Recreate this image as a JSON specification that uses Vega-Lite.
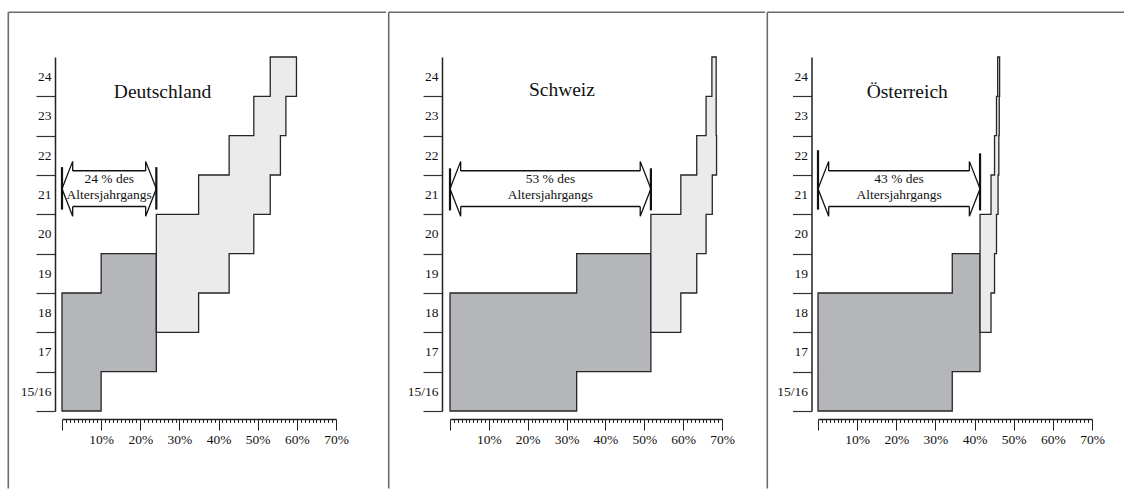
{
  "$schema": "https://vega.github.io/schema/vega-lite/v6.json",
  "padding": {"left": 7, "top": 11, "right": 0, "bottom": 0},
  "background": "white",
  "spacing": 0,
  "config": {
    "font": "Liberation Serif",
    "view": {"stroke": null},
    "text": {"font": "Liberation Serif", "color": "#111"},
    "axis": {"labelFont": "Liberation Serif"}
  },
  "datasets": {
    "stufen": [
      {"land": "Deutschland", "phase": "Phase 1", "alter": 16, "links": 0, "rechts": 10},
      {"land": "Deutschland", "phase": "Phase 1", "alter": 17, "links": 0, "rechts": 24.1},
      {"land": "Deutschland", "phase": "Phase 1", "alter": 18, "links": 0, "rechts": 24.1},
      {"land": "Deutschland", "phase": "Phase 1", "alter": 19, "links": 10, "rechts": 24.1},
      {"land": "Deutschland", "phase": "Phase 1", "alter": 20, "links": 10, "rechts": 24.1},
      {"land": "Deutschland", "phase": "Phase 2", "alter": 18, "links": 24.1, "rechts": 34.9},
      {"land": "Deutschland", "phase": "Phase 2", "alter": 19, "links": 24.1, "rechts": 42.7},
      {"land": "Deutschland", "phase": "Phase 2", "alter": 20, "links": 24.1, "rechts": 49},
      {"land": "Deutschland", "phase": "Phase 2", "alter": 21, "links": 34.9, "rechts": 53.2},
      {"land": "Deutschland", "phase": "Phase 2", "alter": 22, "links": 42.7, "rechts": 55.8},
      {"land": "Deutschland", "phase": "Phase 2", "alter": 23, "links": 49, "rechts": 57.2},
      {"land": "Deutschland", "phase": "Phase 2", "alter": 24, "links": 53.2, "rechts": 59.9},
      {"land": "Deutschland", "phase": "Phase 2", "alter": 25, "links": 53.2, "rechts": 59.9},
      {"land": "Schweiz", "phase": "Phase 1", "alter": 16, "links": 0, "rechts": 32.6},
      {"land": "Schweiz", "phase": "Phase 1", "alter": 17, "links": 0, "rechts": 51.7},
      {"land": "Schweiz", "phase": "Phase 1", "alter": 18, "links": 0, "rechts": 51.7},
      {"land": "Schweiz", "phase": "Phase 1", "alter": 19, "links": 32.6, "rechts": 51.7},
      {"land": "Schweiz", "phase": "Phase 1", "alter": 20, "links": 32.6, "rechts": 51.7},
      {"land": "Schweiz", "phase": "Phase 2", "alter": 18, "links": 51.7, "rechts": 59.4},
      {"land": "Schweiz", "phase": "Phase 2", "alter": 19, "links": 51.7, "rechts": 63.5},
      {"land": "Schweiz", "phase": "Phase 2", "alter": 20, "links": 51.7, "rechts": 65.9},
      {"land": "Schweiz", "phase": "Phase 2", "alter": 21, "links": 59.4, "rechts": 67.5},
      {"land": "Schweiz", "phase": "Phase 2", "alter": 22, "links": 63.5, "rechts": 68.6},
      {"land": "Schweiz", "phase": "Phase 2", "alter": 23, "links": 65.9, "rechts": 68.5},
      {"land": "Schweiz", "phase": "Phase 2", "alter": 24, "links": 67.4, "rechts": 68.5},
      {"land": "Schweiz", "phase": "Phase 2", "alter": 25, "links": 67.4, "rechts": 68.5},
      {"land": "Österreich", "phase": "Phase 1", "alter": 16, "links": 0, "rechts": 34.3},
      {"land": "Österreich", "phase": "Phase 1", "alter": 17, "links": 0, "rechts": 41.4},
      {"land": "Österreich", "phase": "Phase 1", "alter": 18, "links": 0, "rechts": 41.4},
      {"land": "Österreich", "phase": "Phase 1", "alter": 19, "links": 34.3, "rechts": 41.4},
      {"land": "Österreich", "phase": "Phase 1", "alter": 20, "links": 34.3, "rechts": 41.4},
      {"land": "Österreich", "phase": "Phase 2", "alter": 18, "links": 41.4, "rechts": 44.2},
      {"land": "Österreich", "phase": "Phase 2", "alter": 19, "links": 41.4, "rechts": 45.1},
      {"land": "Österreich", "phase": "Phase 2", "alter": 20, "links": 41.4, "rechts": 45.6},
      {"land": "Österreich", "phase": "Phase 2", "alter": 21, "links": 44.2, "rechts": 46.0},
      {"land": "Österreich", "phase": "Phase 2", "alter": 22, "links": 45.1, "rechts": 46.2},
      {"land": "Österreich", "phase": "Phase 2", "alter": 23, "links": 45.6, "rechts": 46.3},
      {"land": "Österreich", "phase": "Phase 2", "alter": 24, "links": 45.9, "rechts": 46.4},
      {"land": "Österreich", "phase": "Phase 2", "alter": 25, "links": 45.9, "rechts": 46.4}
    ],
    "pfeile": [
      {"land": "Deutschland", "von": 0, "bis": 24.1, "text": "24 % des\nAltersjahrgangs"},
      {"land": "Schweiz", "von": 0, "bis": 51.7, "text": "53 % des\nAltersjahrgangs"},
      {"land": "Österreich", "von": 0, "bis": 41.4, "text": "43 % des\nAltersjahrgangs"}
    ]
  },
  "hconcat": [
    {
      "width": 274, "height": 354,
      "layer": [
        {
          "data": {"name": "stufen"},
          "transform": [{"filter": "datum.land === 'Deutschland'"}],
          "mark": {"type": "area", "orient": "horizontal", "interpolate": "step-after", "stroke": "#262626", "strokeWidth": 1.3, "strokeJoin": "miter", "opacity": 1},
          "encoding": {
            "y": {"field": "alter", "type": "quantitative", "scale": {"domain": [16, 25], "nice": false, "zero": false},
              "axis": {"orient": "left", "offset": 7, "title": null, "grid": false, "values": [16,17,18,19,20,21,22,23,24], "tickCount": 50, "tickSize": 19, "tickColor": "#333", "tickWidth": 1.2, "domainColor": "#222", "domainWidth": 1.5, "labelExpr": "datum.value === 16 ? '15/16' : '' + datum.value", "labelOffset": -19.67, "labelPadding": -15, "labelAlign": "right", "labelBaseline": "middle", "labelOverlap": false, "labelFlush": false, "labelBound": false, "labelFontSize": 13.5, "labelColor": "#111"}},
            "x": {"field": "links", "type": "quantitative", "scale": {"domain": [0, 70], "nice": false, "zero": false},
              "axis": {"orient": "bottom", "offset": 8, "title": null, "grid": false, "values": [0,1,2,3,4,5,6,7,8,9,10,11,12,13,14,15,16,17,18,19,20,21,22,23,24,25,26,27,28,29,30,31,32,33,34,35,36,37,38,39,40,41,42,43,44,45,46,47,48,49,50,51,52,53,54,55,56,57,58,59,60,61,62,63,64,65,66,67,68,69,70], "tickCount": 500, "tickSize": {"condition": {"test": "datum.value % 10 === 0", "value": 11}, "value": 3.5}, "tickColor": "#222", "tickWidth": 1, "domainColor": "#222", "domainWidth": 1.5, "labelExpr": "datum.value % 10 === 0 && datum.value > 0 ? datum.value + '%' : ''", "labelOverlap": false, "labelFlush": false, "labelBound": false, "labelPadding": 2, "labelFontSize": 13.5, "labelColor": "#111"}},
            "x2": {"field": "rechts"},
            "fill": {"field": "phase", "type": "nominal", "scale": {"domain": ["Phase 1", "Phase 2"], "range": ["#b4b6b9", "#ebebeb"]}, "legend": null}
          }
        },
        {
          "data": {"values": [{}]},
          "mark": {"type": "rule", "color": "#6b6b6b", "strokeWidth": 1.6},
          "encoding": {"x": {"datum": -13.72}, "y": {"datum": 26.137}, "y2": {"datum": 14.03}}
        },
        {
          "data": {"values": [{}]},
          "mark": {"type": "rule", "color": "#6b6b6b", "strokeWidth": 1.6},
          "encoding": {"x": {"datum": -13.72}, "x2": {"datum": 82.75}, "y": {"datum": 26.137}}
        },
        {
          "data": {"name": "pfeile"},
          "transform": [{"filter": "datum.land === 'Deutschland'"}],
          "layer": [
            {"mark": {"type": "rule", "color": "#111", "strokeWidth": 1.5, "xOffset": 10.7, "x2Offset": -10.7}, "encoding": {"x": {"field": "von", "type": "quantitative"}, "x2": {"field": "bis"}, "y": {"datum": 22.107}}},
            {"mark": {"type": "rule", "color": "#111", "strokeWidth": 1.5, "xOffset": 10.7, "x2Offset": -10.7}, "encoding": {"x": {"field": "von", "type": "quantitative"}, "x2": {"field": "bis"}, "y": {"datum": 21.197}}},
            {"mark": {"type": "rule", "color": "#111", "strokeWidth": 2.2}, "encoding": {"x": {"field": "von", "type": "quantitative"}, "y": {"datum": 22.2}, "y2": {"datum": 21.12}}},
            {"mark": {"type": "rule", "color": "#111", "strokeWidth": 2.2}, "encoding": {"x": {"field": "bis", "type": "quantitative"}, "y": {"datum": 22.2}, "y2": {"datum": 21.12}}},
            {"mark": {"type": "point", "shape": "M0.39,-0.65L0.39,-1L0,0L0.39,1L0.39,0.65", "size": 3000, "filled": false, "color": "#111", "strokeWidth": 1.3, "opacity": 1}, "encoding": {"x": {"field": "von", "type": "quantitative"}, "y": {"datum": 21.65}}},
            {"mark": {"type": "point", "shape": "M-0.39,-0.65L-0.39,-1L0,0L-0.39,1L-0.39,0.65", "size": 3000, "filled": false, "color": "#111", "strokeWidth": 1.3, "opacity": 1}, "encoding": {"x": {"field": "bis", "type": "quantitative"}, "y": {"datum": 21.65}}},
            {"transform": [{"fold": ["von", "bis"], "as": ["ende", "wert"]}], "mark": {"type": "text", "fontSize": 13.5, "lineBreak": "\n", "lineHeight": 16.5, "baseline": "middle", "align": "center", "color": "#111"}, "encoding": {"x": {"aggregate": "mean", "field": "wert", "type": "quantitative"}, "y": {"datum": 21.9}, "text": {"field": "text", "type": "nominal"}}}
          ]
        },
        {
          "data": {"values": [{}]},
          "mark": {"type": "text", "fontSize": 19.5, "align": "center", "baseline": "middle", "color": "#111"},
          "encoding": {"x": {"datum": 25.7}, "y": {"datum": 24.11}, "text": {"value": "Deutschland"}}
        }
      ]
    },
    {
      "width": 272, "height": 354,
      "layer": [
        {
          "data": {"name": "stufen"},
          "transform": [{"filter": "datum.land === 'Schweiz'"}],
          "mark": {"type": "area", "orient": "horizontal", "interpolate": "step-after", "stroke": "#262626", "strokeWidth": 1.3, "strokeJoin": "miter", "opacity": 1},
          "encoding": {
            "y": {"field": "alter", "type": "quantitative", "scale": {"domain": [16, 25], "nice": false, "zero": false},
              "axis": {"orient": "left", "offset": 8, "title": null, "grid": false, "values": [16,17,18,19,20,21,22,23,24], "tickCount": 50, "tickSize": 19, "tickColor": "#333", "tickWidth": 1.2, "domainColor": "#222", "domainWidth": 1.5, "labelExpr": "datum.value === 16 ? '15/16' : '' + datum.value", "labelOffset": -19.67, "labelPadding": -15, "labelAlign": "right", "labelBaseline": "middle", "labelOverlap": false, "labelFlush": false, "labelBound": false, "labelFontSize": 13.5, "labelColor": "#111"}},
            "x": {"field": "links", "type": "quantitative", "scale": {"domain": [0, 70], "nice": false, "zero": false},
              "axis": {"orient": "bottom", "offset": 8, "title": null, "grid": false, "values": [0,1,2,3,4,5,6,7,8,9,10,11,12,13,14,15,16,17,18,19,20,21,22,23,24,25,26,27,28,29,30,31,32,33,34,35,36,37,38,39,40,41,42,43,44,45,46,47,48,49,50,51,52,53,54,55,56,57,58,59,60,61,62,63,64,65,66,67,68,69,70], "tickCount": 500, "tickSize": {"condition": {"test": "datum.value % 10 === 0", "value": 11}, "value": 3.5}, "tickColor": "#222", "tickWidth": 1, "domainColor": "#222", "domainWidth": 1.5, "labelExpr": "datum.value % 10 === 0 && datum.value > 0 ? datum.value + '%' : ''", "labelOverlap": false, "labelFlush": false, "labelBound": false, "labelPadding": 2, "labelFontSize": 13.5, "labelColor": "#111"}},
            "x2": {"field": "rechts"},
            "fill": {"field": "phase", "type": "nominal", "scale": {"domain": ["Phase 1", "Phase 2"], "range": ["#b4b6b9", "#d8d9da"]}, "legend": null}
          }
        },
        {
          "data": {"values": [{}]},
          "mark": {"type": "rule", "color": "#6b6b6b", "strokeWidth": 1.6},
          "encoding": {"x": {"datum": -15.77}, "y": {"datum": 26.137}, "y2": {"datum": 14.03}}
        },
        {
          "data": {"values": [{}]},
          "mark": {"type": "rule", "color": "#6b6b6b", "strokeWidth": 1.6},
          "encoding": {"x": {"datum": -15.77}, "x2": {"datum": 81.09}, "y": {"datum": 26.137}}
        },
        {
          "data": {"name": "pfeile"},
          "transform": [{"filter": "datum.land === 'Schweiz'"}],
          "layer": [
            {"mark": {"type": "rule", "color": "#111", "strokeWidth": 1.5, "xOffset": 10.7, "x2Offset": -10.7}, "encoding": {"x": {"field": "von", "type": "quantitative"}, "x2": {"field": "bis"}, "y": {"datum": 22.107}}},
            {"mark": {"type": "rule", "color": "#111", "strokeWidth": 1.5, "xOffset": 10.7, "x2Offset": -10.7}, "encoding": {"x": {"field": "von", "type": "quantitative"}, "x2": {"field": "bis"}, "y": {"datum": 21.197}}},
            {"mark": {"type": "rule", "color": "#111", "strokeWidth": 2.2}, "encoding": {"x": {"field": "von", "type": "quantitative"}, "y": {"datum": 22.17}, "y2": {"datum": 21.1}}},
            {"mark": {"type": "rule", "color": "#111", "strokeWidth": 2.2}, "encoding": {"x": {"field": "bis", "type": "quantitative"}, "y": {"datum": 22.17}, "y2": {"datum": 21.1}}},
            {"mark": {"type": "point", "shape": "M0.39,-0.65L0.39,-1L0,0L0.39,1L0.39,0.65", "size": 3000, "filled": false, "color": "#111", "strokeWidth": 1.3, "opacity": 1}, "encoding": {"x": {"field": "von", "type": "quantitative"}, "y": {"datum": 21.65}}},
            {"mark": {"type": "point", "shape": "M-0.39,-0.65L-0.39,-1L0,0L-0.39,1L-0.39,0.65", "size": 3000, "filled": false, "color": "#111", "strokeWidth": 1.3, "opacity": 1}, "encoding": {"x": {"field": "bis", "type": "quantitative"}, "y": {"datum": 21.65}}},
            {"transform": [{"fold": ["von", "bis"], "as": ["ende", "wert"]}], "mark": {"type": "text", "fontSize": 13.5, "lineBreak": "\n", "lineHeight": 16.5, "baseline": "middle", "align": "center", "color": "#111"}, "encoding": {"x": {"aggregate": "mean", "field": "wert", "type": "quantitative"}, "y": {"datum": 21.9}, "text": {"field": "text", "type": "nominal"}}}
          ]
        },
        {
          "data": {"values": [{}]},
          "mark": {"type": "text", "fontSize": 19.5, "align": "center", "baseline": "middle", "color": "#111"},
          "encoding": {"x": {"datum": 28.8}, "y": {"datum": 24.15}, "text": {"value": "Schweiz"}}
        }
      ]
    },
    {
      "width": 274, "height": 354,
      "layer": [
        {
          "data": {"name": "stufen"},
          "transform": [{"filter": "datum.land === 'Österreich'"}],
          "mark": {"type": "area", "orient": "horizontal", "interpolate": "step-after", "stroke": "#262626", "strokeWidth": 1.3, "strokeJoin": "miter", "opacity": 1},
          "encoding": {
            "y": {"field": "alter", "type": "quantitative", "scale": {"domain": [16, 25], "nice": false, "zero": false},
              "axis": {"orient": "left", "offset": 6.5, "title": null, "grid": false, "values": [16,17,18,19,20,21,22,23,24], "tickCount": 50, "tickSize": 19, "tickColor": "#333", "tickWidth": 1.2, "domainColor": "#222", "domainWidth": 1.5, "labelExpr": "datum.value === 16 ? '15/16' : '' + datum.value", "labelOffset": -19.67, "labelPadding": -15, "labelAlign": "right", "labelBaseline": "middle", "labelOverlap": false, "labelFlush": false, "labelBound": false, "labelFontSize": 13.5, "labelColor": "#111"}},
            "x": {"field": "links", "type": "quantitative", "scale": {"domain": [0, 70], "nice": false, "zero": false},
              "axis": {"orient": "bottom", "offset": 8, "title": null, "grid": false, "values": [0,1,2,3,4,5,6,7,8,9,10,11,12,13,14,15,16,17,18,19,20,21,22,23,24,25,26,27,28,29,30,31,32,33,34,35,36,37,38,39,40,41,42,43,44,45,46,47,48,49,50,51,52,53,54,55,56,57,58,59,60,61,62,63,64,65,66,67,68,69,70], "tickCount": 500, "tickSize": {"condition": {"test": "datum.value % 10 === 0", "value": 11}, "value": 3.5}, "tickColor": "#222", "tickWidth": 1, "domainColor": "#222", "domainWidth": 1.5, "labelExpr": "datum.value % 10 === 0 && datum.value > 0 ? datum.value + '%' : ''", "labelOverlap": false, "labelFlush": false, "labelBound": false, "labelPadding": 2, "labelFontSize": 13.5, "labelColor": "#111"}},
            "x2": {"field": "rechts"},
            "fill": {"field": "phase", "type": "nominal", "scale": {"domain": ["Phase 1", "Phase 2"], "range": ["#b4b6b9", "#ebebeb"]}, "legend": null}
          }
        },
        {
          "data": {"values": [{}]},
          "mark": {"type": "rule", "color": "#6b6b6b", "strokeWidth": 1.6},
          "encoding": {"x": {"datum": -12.95}, "y": {"datum": 26.137}, "y2": {"datum": 14.03}}
        },
        {
          "data": {"values": [{}]},
          "mark": {"type": "rule", "color": "#6b6b6b", "strokeWidth": 1.6},
          "encoding": {"x": {"datum": -12.95}, "x2": {"datum": 78.4}, "y": {"datum": 26.137}}
        },
        {
          "data": {"name": "pfeile"},
          "transform": [{"filter": "datum.land === 'Österreich'"}],
          "layer": [
            {"mark": {"type": "rule", "color": "#111", "strokeWidth": 1.5, "xOffset": 10.7, "x2Offset": -10.7}, "encoding": {"x": {"field": "von", "type": "quantitative"}, "x2": {"field": "bis"}, "y": {"datum": 22.107}}},
            {"mark": {"type": "rule", "color": "#111", "strokeWidth": 1.5, "xOffset": 10.7, "x2Offset": -10.7}, "encoding": {"x": {"field": "von", "type": "quantitative"}, "x2": {"field": "bis"}, "y": {"datum": 21.197}}},
            {"mark": {"type": "rule", "color": "#111", "strokeWidth": 2.2}, "encoding": {"x": {"field": "von", "type": "quantitative"}, "y": {"datum": 22.63}, "y2": {"datum": 21.12}}},
            {"mark": {"type": "rule", "color": "#111", "strokeWidth": 2.2}, "encoding": {"x": {"field": "bis", "type": "quantitative"}, "y": {"datum": 22.55}, "y2": {"datum": 21.1}}},
            {"mark": {"type": "point", "shape": "M0.39,-0.65L0.39,-1L0,0L0.39,1L0.39,0.65", "size": 3000, "filled": false, "color": "#111", "strokeWidth": 1.3, "opacity": 1}, "encoding": {"x": {"field": "von", "type": "quantitative"}, "y": {"datum": 21.65}}},
            {"mark": {"type": "point", "shape": "M-0.39,-0.65L-0.39,-1L0,0L-0.39,1L-0.39,0.65", "size": 3000, "filled": false, "color": "#111", "strokeWidth": 1.3, "opacity": 1}, "encoding": {"x": {"field": "bis", "type": "quantitative"}, "y": {"datum": 21.65}}},
            {"transform": [{"fold": ["von", "bis"], "as": ["ende", "wert"]}], "mark": {"type": "text", "fontSize": 13.5, "lineBreak": "\n", "lineHeight": 16.5, "baseline": "middle", "align": "center", "color": "#111"}, "encoding": {"x": {"aggregate": "mean", "field": "wert", "type": "quantitative"}, "y": {"datum": 21.9}, "text": {"field": "text", "type": "nominal"}}}
          ]
        },
        {
          "data": {"values": [{}]},
          "mark": {"type": "text", "fontSize": 19.5, "align": "center", "baseline": "middle", "color": "#111"},
          "encoding": {"x": {"datum": 22.8}, "y": {"datum": 24.11}, "text": {"value": "Österreich"}}
        }
      ]
    }
  ]
}
